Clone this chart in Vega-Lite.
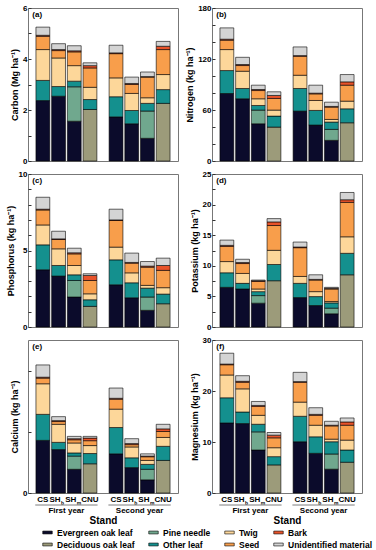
{
"$schema":"https://vega.github.io/schema/vega-lite/v6.json",
"padding":{"left":5,"top":3,"right":2,"bottom":0},
"config":{"font":"Liberation Sans","view":{"stroke":"#777","strokeWidth":1},
"axis":{"labelFontWeight":"bold","labelFontSize":8,"titleFontWeight":"bold","titleFontSize":9,"grid":false,"domain":false,"labelColor":"#000","titleColor":"#000"},
"axisX":{"labelAngle":0},
"axisY":{"tickSize":-3,"tickColor":"#333","labelPadding":4,"titlePadding":3,"labelOverlap":false},
"legend":{"labelFontSize":8.5,"labelFontWeight":"bold","labelColor":"#000"}},
"datasets":{
"bars":[
{"el":"C","yr":"First year","st":"CS","c1":2.37,"c4":0.79,"c5":1.21,"c6":0.52,"c7":0.04,"c8":0.32},
{"el":"C","yr":"First year","st":"SHb","c1":2.54,"c4":0.38,"c5":1.12,"c6":0.29,"c7":0.04,"c8":0.23},
{"el":"C","yr":"First year","st":"SHm","c1":1.56,"c3":1.35,"c4":0.22,"c5":0.61,"c6":0.54,"c7":0.04,"c8":0.2},
{"el":"C","yr":"First year","st":"CNU","c2":2.02,"c4":0.39,"c5":0.48,"c6":0.76,"c7":0.09,"c8":0.11},
{"el":"C","yr":"Second year","st":"CS","c1":1.73,"c4":0.79,"c5":0.74,"c6":0.95,"c7":0.03,"c8":0.3},
{"el":"C","yr":"Second year","st":"SHb","c1":1.46,"c4":0.52,"c5":0.67,"c6":0.35,"c7":0.04,"c8":0.25},
{"el":"C","yr":"Second year","st":"SHm","c1":0.89,"c3":1.07,"c4":0.3,"c5":0.22,"c6":0.81,"c7":0.02,"c8":0.18},
{"el":"C","yr":"Second year","st":"CNU","c2":2.26,"c4":0.54,"c5":0.59,"c6":0.98,"c7":0.13,"c8":0.19},
{"el":"N","yr":"First year","st":"CS","c1":79.4,"c4":27,"c5":24.7,"c6":11,"c7":1.2,"c8":13.3},
{"el":"N","yr":"First year","st":"SHb","c1":73.2,"c4":12.1,"c5":20.3,"c6":6.7,"c7":1.2,"c8":8.5},
{"el":"N","yr":"First year","st":"SHm","c1":43.8,"c3":16.1,"c4":5.4,"c5":7.9,"c6":9.7,"c7":1.2,"c8":5.1},
{"el":"N","yr":"First year","st":"CNU","c2":39.9,"c4":12.9,"c5":7.1,"c6":13.7,"c7":3.5,"c8":4.3},
{"el":"N","yr":"Second year","st":"CS","c1":58.7,"c4":26.6,"c5":15.6,"c6":22.3,"c7":0.8,"c8":10.2},
{"el":"N","yr":"Second year","st":"SHb","c1":42.3,"c4":17.2,"c5":11.7,"c6":7.8,"c7":0.8,"c8":9.4},
{"el":"N","yr":"Second year","st":"SHm","c1":24.3,"c3":12.9,"c4":8.6,"c5":3.1,"c6":14.5,"c7":0.8,"c8":5},
{"el":"N","yr":"Second year","st":"CNU","c2":45,"c4":16.4,"c5":9,"c6":18.8,"c7":3.9,"c8":8.6},
{"el":"P","yr":"First year","st":"CS","c1":3.74,"c4":1.63,"c5":1.3,"c6":0.98,"c7":0.05,"c8":0.78},
{"el":"P","yr":"First year","st":"SHb","c1":3.33,"c4":0.69,"c5":1.09,"c6":0.61,"c7":0.04,"c8":0.5},
{"el":"P","yr":"First year","st":"SHm","c1":1.96,"c3":1.08,"c4":0.37,"c5":0.61,"c6":0.76,"c7":0.07,"c8":0.3},
{"el":"P","yr":"First year","st":"CNU","c2":1.35,"c4":0.43,"c5":0.39,"c6":0.87,"c7":0.33,"c8":0.11},
{"el":"P","yr":"Second year","st":"CS","c1":2.76,"c4":1.63,"c5":0.83,"c6":1.74,"c7":0.04,"c8":0.7},
{"el":"P","yr":"Second year","st":"SHb","c1":1.91,"c4":0.98,"c5":0.65,"c6":0.63,"c7":0.05,"c8":0.61},
{"el":"P","yr":"Second year","st":"SHm","c1":1.09,"c3":0.87,"c4":0.58,"c5":0.18,"c6":1.19,"c7":0.07,"c8":0.3},
{"el":"P","yr":"Second year","st":"CNU","c2":1.52,"c4":0.63,"c5":0.42,"c6":1.13,"c7":0.32,"c8":0.48},
{"el":"K","yr":"First year","st":"CS","c1":6.48,"c4":2.38,"c5":1.83,"c6":2.48,"c7":0.17,"c8":0.86},
{"el":"K","yr":"First year","st":"SHb","c1":6.21,"c4":0.92,"c5":1.62,"c6":1.62,"c7":0.16,"c8":0.54},
{"el":"K","yr":"First year","st":"SHm","c1":3.89,"c3":1.24,"c4":0.65,"c5":0.43,"c6":1.24,"c7":0.11,"c8":0.11},
{"el":"K","yr":"First year","st":"CNU","c2":7.56,"c4":2.65,"c5":2.32,"c6":4.05,"c7":0.59,"c8":0.54},
{"el":"K","yr":"Second year","st":"CS","c1":4.81,"c4":2.32,"c5":1.13,"c6":4.7,"c7":0.11,"c8":0.81},
{"el":"K","yr":"Second year","st":"SHb","c1":3.51,"c4":1.46,"c5":0.81,"c6":1.89,"c7":0.11,"c8":0.75},
{"el":"K","yr":"Second year","st":"SHm","c1":2.16,"c3":0.92,"c4":0.86,"c5":0.22,"c6":2.05,"c7":0.11,"c8":0.16},
{"el":"K","yr":"Second year","st":"CNU","c2":8.53,"c4":3.51,"c5":2.7,"c6":5.62,"c7":0.43,"c8":1.19},
{"el":"Ca","yr":"First year","st":"CS","c1":34.4,"c4":17,"c5":20,"c6":3.7,"c7":0.6,"c8":8},
{"el":"Ca","yr":"First year","st":"SHb","c1":28.4,"c4":4.7,"c5":11.8,"c6":1.8,"c7":0.6,"c8":2.6},
{"el":"Ca","yr":"First year","st":"SHm","c1":15.5,"c3":8.6,"c4":2.1,"c5":6.5,"c6":2.1,"c7":0.7,"c8":1.5},
{"el":"Ca","yr":"First year","st":"CNU","c2":19.1,"c4":6.7,"c5":5.2,"c6":3.2,"c7":1.7,"c8":1.1},
{"el":"Ca","yr":"Second year","st":"CS","c1":25.6,"c4":17.2,"c5":12,"c6":6.5,"c7":0.6,"c8":6.7},
{"el":"Ca","yr":"Second year","st":"SHb","c1":16.6,"c4":6.4,"c5":7.1,"c6":1.5,"c7":0.7,"c8":3.2},
{"el":"Ca","yr":"Second year","st":"SHm","c1":8.6,"c3":6.9,"c4":3.2,"c5":2.6,"c6":2.4,"c7":0.4,"c8":1.5},
{"el":"Ca","yr":"Second year","st":"CNU","c2":21.3,"c4":9.2,"c5":5.8,"c6":3.9,"c7":1.7,"c8":3},
{"el":"Mg","yr":"First year","st":"CS","c1":13.74,"c4":4.93,"c5":4.47,"c6":2.01,"c7":0.13,"c8":2.13},
{"el":"Mg","yr":"First year","st":"SHb","c1":13.61,"c4":2.27,"c5":4.54,"c6":1.29,"c7":0.19,"c8":1.1},
{"el":"Mg","yr":"First year","st":"SHm","c1":8.43,"c3":3.56,"c4":1.49,"c5":1.75,"c6":1.75,"c7":0.19,"c8":0.78},
{"el":"Mg","yr":"First year","st":"CNU","c2":5.51,"c4":1.62,"c5":1.75,"c6":1.94,"c7":0.52,"c8":0.52},
{"el":"Mg","yr":"Second year","st":"CS","c1":10.05,"c4":4.99,"c5":2.78,"c6":3.89,"c7":0.13,"c8":1.82},
{"el":"Mg","yr":"Second year","st":"SHb","c1":7.78,"c4":3.24,"c5":2.27,"c6":1.94,"c7":0.19,"c8":1.3},
{"el":"Mg","yr":"Second year","st":"SHm","c1":4.67,"c3":2.98,"c4":2.4,"c5":0.51,"c6":2.6,"c7":0.13,"c8":0.77},
{"el":"Mg","yr":"Second year","st":"CNU","c2":6.03,"c4":2.4,"c5":1.94,"c6":2.92,"c7":0.64,"c8":0.78}
],
"stands":[
{"yr":"First year","st":"CS","lab":"CS","sub":""},
{"yr":"First year","st":"SHb","lab":"SH","sub":"b"},
{"yr":"First year","st":"SHm","lab":"SH","sub":"m"},
{"yr":"First year","st":"CNU","lab":"CNU","sub":""},
{"yr":"Second year","st":"CS","lab":"CS","sub":""},
{"yr":"Second year","st":"SHb","lab":"SH","sub":"b"},
{"yr":"Second year","st":"SHm","lab":"SH","sub":"m"},
{"yr":"Second year","st":"CNU","lab":"CNU","sub":""}
],
"years":[{"yr":"First year"},{"yr":"Second year"}]
},
"columns":2,
"spacing":{"row":13,"column":34},
"bounds":"flush",
"resolve":{"scale":{"x":"independent","y":"independent","xOffset":"independent","color":"shared"}},
"concat":[
{"width":150,"height":153,"layer":[
{"data":{"name":"bars"},"transform":[{"filter":"datum.el==='C'"},{"fold":["c1","c2","c3","c4","c5","c6","c7","c8"],"as":["comp","value"]},{"filter":"datum.value > 0"}],
"mark":{"type":"bar","stroke":"#000","strokeWidth":0.6},
"encoding":{"x":{"field":"yr","type":"nominal","scale":{"paddingInner":0.15,"paddingOuter":0.1},"axis":null},
"xOffset":{"field":"st","type":"nominal","sort":["CS","SHb","SHm","CNU"],"scale":{"paddingInner":0.12,"paddingOuter":0.04}},
"y":{"field":"value","type":"quantitative","stack":"zero","scale":{"domain":[0,6],"nice":false},"axis":{"title":"Carbon (Mg ha⁻¹)","values":[0,1,2,3,4,5,6],"labelExpr":"datum.value % 2 === 0 ? datum.label : ''"}},
"color":{"field":"comp","type":"nominal","scale":{"domain":["c1","c2","c3","c4","c5","c6","c7","c8"],"range":["#0b0b2b","#9c9b7a","#70a88e","#14908e","#fdd79a","#f89e4b","#e8532a","#d4d4d4"]},
"legend":{"orient":"none","legendX":14,"legendY":519,"direction":"horizontal","columns":4,"title":null,"values":["c1","c3","c5","c7","c2","c4","c6","c8"],"labelExpr":"datum.value==='c1'?'Evergreen oak leaf':datum.value==='c2'?'Deciduous oak leaf':datum.value==='c3'?'Pine needle':datum.value==='c4'?'Other leaf':datum.value==='c5'?'Twig':datum.value==='c6'?'Seed':datum.value==='c7'?'Bark':'Unidentified material'","symbolType":"M-1,-0.3L1,-0.3L1,0.3L-1,0.3Z","symbolSize":90,"symbolStrokeColor":"#000","symbolStrokeWidth":0.6,"columnPadding":12,"rowPadding":2}},
"order":{"field":"comp","type":"nominal","sort":"ascending"}}},
{"data":{"values":[{}]},"mark":{"type":"text","text":"(a)","align":"left","baseline":"top","fontSize":8,"fontWeight":"bold","dx":-3,"dy":3},
"encoding":{"x":{"datum":"First year","bandPosition":0,"axis":null},"y":{"datum":6,"type":"quantitative","axis":{"title":"Carbon (Mg ha⁻¹)","values":[0,1,2,3,4,5,6],"labelExpr":"datum.value % 2 === 0 ? datum.label : ''"}}}}
]},
{"width":150,"height":153,"layer":[
{"data":{"name":"bars"},"transform":[{"filter":"datum.el==='N'"},{"fold":["c1","c2","c3","c4","c5","c6","c7","c8"],"as":["comp","value"]},{"filter":"datum.value > 0"}],
"mark":{"type":"bar","stroke":"#000","strokeWidth":0.6},
"encoding":{"x":{"field":"yr","type":"nominal","scale":{"paddingInner":0.15,"paddingOuter":0.1},"axis":null},
"xOffset":{"field":"st","type":"nominal","sort":["CS","SHb","SHm","CNU"],"scale":{"paddingInner":0.12,"paddingOuter":0.04}},
"y":{"field":"value","type":"quantitative","stack":"zero","scale":{"domain":[0,180],"nice":false},"axis":{"title":"Nitrogen (kg ha⁻¹)","values":[0,20,40,60,80,100,120,140,160,180],"labelExpr":"datum.value % 60 === 0 ? datum.label : ''"}},
"color":{"field":"comp","type":"nominal","scale":{"domain":["c1","c2","c3","c4","c5","c6","c7","c8"],"range":["#0b0b2b","#9c9b7a","#70a88e","#14908e","#fdd79a","#f89e4b","#e8532a","#d4d4d4"]},
"legend":{"orient":"none","legendX":14,"legendY":519,"direction":"horizontal","columns":4,"title":null,"values":["c1","c3","c5","c7","c2","c4","c6","c8"],"labelExpr":"datum.value==='c1'?'Evergreen oak leaf':datum.value==='c2'?'Deciduous oak leaf':datum.value==='c3'?'Pine needle':datum.value==='c4'?'Other leaf':datum.value==='c5'?'Twig':datum.value==='c6'?'Seed':datum.value==='c7'?'Bark':'Unidentified material'","symbolType":"M-1,-0.3L1,-0.3L1,0.3L-1,0.3Z","symbolSize":90,"symbolStrokeColor":"#000","symbolStrokeWidth":0.6,"columnPadding":12,"rowPadding":2}},
"order":{"field":"comp","type":"nominal","sort":"ascending"}}},
{"data":{"values":[{}]},"mark":{"type":"text","text":"(b)","align":"left","baseline":"top","fontSize":8,"fontWeight":"bold","dx":-3,"dy":3},
"encoding":{"x":{"datum":"First year","bandPosition":0,"axis":null},"y":{"datum":180,"type":"quantitative","axis":{"title":"Nitrogen (kg ha⁻¹)","values":[0,20,40,60,80,100,120,140,160,180],"labelExpr":"datum.value % 60 === 0 ? datum.label : ''"}}}}
]},
{"width":150,"height":153,"layer":[
{"data":{"name":"bars"},"transform":[{"filter":"datum.el==='P'"},{"fold":["c1","c2","c3","c4","c5","c6","c7","c8"],"as":["comp","value"]},{"filter":"datum.value > 0"}],
"mark":{"type":"bar","stroke":"#000","strokeWidth":0.6},
"encoding":{"x":{"field":"yr","type":"nominal","scale":{"paddingInner":0.15,"paddingOuter":0.1},"axis":null},
"xOffset":{"field":"st","type":"nominal","sort":["CS","SHb","SHm","CNU"],"scale":{"paddingInner":0.12,"paddingOuter":0.04}},
"y":{"field":"value","type":"quantitative","stack":"zero","scale":{"domain":[0,10],"nice":false},"axis":{"title":"Phosphorus (kg ha⁻¹)","values":[0,1,2,3,4,5,6,7,8,9,10],"labelExpr":"datum.value % 5 === 0 ? datum.label : ''"}},
"color":{"field":"comp","type":"nominal","scale":{"domain":["c1","c2","c3","c4","c5","c6","c7","c8"],"range":["#0b0b2b","#9c9b7a","#70a88e","#14908e","#fdd79a","#f89e4b","#e8532a","#d4d4d4"]},
"legend":{"orient":"none","legendX":14,"legendY":519,"direction":"horizontal","columns":4,"title":null,"values":["c1","c3","c5","c7","c2","c4","c6","c8"],"labelExpr":"datum.value==='c1'?'Evergreen oak leaf':datum.value==='c2'?'Deciduous oak leaf':datum.value==='c3'?'Pine needle':datum.value==='c4'?'Other leaf':datum.value==='c5'?'Twig':datum.value==='c6'?'Seed':datum.value==='c7'?'Bark':'Unidentified material'","symbolType":"M-1,-0.3L1,-0.3L1,0.3L-1,0.3Z","symbolSize":90,"symbolStrokeColor":"#000","symbolStrokeWidth":0.6,"columnPadding":12,"rowPadding":2}},
"order":{"field":"comp","type":"nominal","sort":"ascending"}}},
{"data":{"values":[{}]},"mark":{"type":"text","text":"(c)","align":"left","baseline":"top","fontSize":8,"fontWeight":"bold","dx":-3,"dy":3},
"encoding":{"x":{"datum":"First year","bandPosition":0,"axis":null},"y":{"datum":10,"type":"quantitative","axis":{"title":"Phosphorus (kg ha⁻¹)","values":[0,1,2,3,4,5,6,7,8,9,10],"labelExpr":"datum.value % 5 === 0 ? datum.label : ''"}}}}
]},
{"width":150,"height":153,"layer":[
{"data":{"name":"bars"},"transform":[{"filter":"datum.el==='K'"},{"fold":["c1","c2","c3","c4","c5","c6","c7","c8"],"as":["comp","value"]},{"filter":"datum.value > 0"}],
"mark":{"type":"bar","stroke":"#000","strokeWidth":0.6},
"encoding":{"x":{"field":"yr","type":"nominal","scale":{"paddingInner":0.15,"paddingOuter":0.1},"axis":null},
"xOffset":{"field":"st","type":"nominal","sort":["CS","SHb","SHm","CNU"],"scale":{"paddingInner":0.12,"paddingOuter":0.04}},
"y":{"field":"value","type":"quantitative","stack":"zero","scale":{"domain":[0,25],"nice":false},"axis":{"title":"Potassium (kg ha⁻¹)","values":[0,2.5,5,7.5,10,12.5,15,17.5,20,22.5,25],"labelExpr":"datum.value % 5 === 0 ? datum.label : ''"}},
"color":{"field":"comp","type":"nominal","scale":{"domain":["c1","c2","c3","c4","c5","c6","c7","c8"],"range":["#0b0b2b","#9c9b7a","#70a88e","#14908e","#fdd79a","#f89e4b","#e8532a","#d4d4d4"]},
"legend":{"orient":"none","legendX":14,"legendY":519,"direction":"horizontal","columns":4,"title":null,"values":["c1","c3","c5","c7","c2","c4","c6","c8"],"labelExpr":"datum.value==='c1'?'Evergreen oak leaf':datum.value==='c2'?'Deciduous oak leaf':datum.value==='c3'?'Pine needle':datum.value==='c4'?'Other leaf':datum.value==='c5'?'Twig':datum.value==='c6'?'Seed':datum.value==='c7'?'Bark':'Unidentified material'","symbolType":"M-1,-0.3L1,-0.3L1,0.3L-1,0.3Z","symbolSize":90,"symbolStrokeColor":"#000","symbolStrokeWidth":0.6,"columnPadding":12,"rowPadding":2}},
"order":{"field":"comp","type":"nominal","sort":"ascending"}}},
{"data":{"values":[{}]},"mark":{"type":"text","text":"(d)","align":"left","baseline":"top","fontSize":8,"fontWeight":"bold","dx":-3,"dy":3},
"encoding":{"x":{"datum":"First year","bandPosition":0,"axis":null},"y":{"datum":25,"type":"quantitative","axis":{"title":"Potassium (kg ha⁻¹)","values":[0,2.5,5,7.5,10,12.5,15,17.5,20,22.5,25],"labelExpr":"datum.value % 5 === 0 ? datum.label : ''"}}}}
]},
{"width":150,"height":153,"layer":[
{"data":{"name":"bars"},"transform":[{"filter":"datum.el==='Ca'"},{"fold":["c1","c2","c3","c4","c5","c6","c7","c8"],"as":["comp","value"]},{"filter":"datum.value > 0"}],
"mark":{"type":"bar","stroke":"#000","strokeWidth":0.6},
"encoding":{"x":{"field":"yr","type":"nominal","scale":{"paddingInner":0.15,"paddingOuter":0.1},"axis":{"title":"Stand","ticks":false,"labelAngle":0,"labelPadding":13,"titleFontSize":10,"titlePadding":1}},
"xOffset":{"field":"st","type":"nominal","sort":["CS","SHb","SHm","CNU"],"scale":{"paddingInner":0.12,"paddingOuter":0.04}},
"y":{"field":"value","type":"quantitative","stack":"zero","scale":{"domain":[0,100],"nice":false},"axis":{"title":"Calcium (kg ha⁻¹)","values":[0,10,20,30,40,50,60,70,80,90,100],"labelExpr":"datum.value % 50 === 0 ? datum.label : ''"}},
"color":{"field":"comp","type":"nominal","scale":{"domain":["c1","c2","c3","c4","c5","c6","c7","c8"],"range":["#0b0b2b","#9c9b7a","#70a88e","#14908e","#fdd79a","#f89e4b","#e8532a","#d4d4d4"]},
"legend":{"orient":"none","legendX":14,"legendY":519,"direction":"horizontal","columns":4,"title":null,"values":["c1","c3","c5","c7","c2","c4","c6","c8"],"labelExpr":"datum.value==='c1'?'Evergreen oak leaf':datum.value==='c2'?'Deciduous oak leaf':datum.value==='c3'?'Pine needle':datum.value==='c4'?'Other leaf':datum.value==='c5'?'Twig':datum.value==='c6'?'Seed':datum.value==='c7'?'Bark':'Unidentified material'","symbolType":"M-1,-0.3L1,-0.3L1,0.3L-1,0.3Z","symbolSize":90,"symbolStrokeColor":"#000","symbolStrokeWidth":0.6,"columnPadding":12,"rowPadding":2}},
"order":{"field":"comp","type":"nominal","sort":"ascending"}}},
{"data":{"values":[{}]},"mark":{"type":"text","text":"(e)","align":"left","baseline":"top","fontSize":8,"fontWeight":"bold","dx":-3,"dy":3},
"encoding":{"x":{"datum":"First year","bandPosition":0,"axis":{"title":"Stand","ticks":false,"labelAngle":0,"labelPadding":13,"titleFontSize":10,"titlePadding":1}},"y":{"datum":100,"type":"quantitative","axis":{"title":"Calcium (kg ha⁻¹)","values":[0,10,20,30,40,50,60,70,80,90,100],"labelExpr":"datum.value % 50 === 0 ? datum.label : ''"}}}},
{"data":{"name":"stands"},"transform":[{"filter":"datum.sub === ''"}],"mark":{"type":"text","baseline":"top","fontSize":8,"fontWeight":"bold","dy":3},
"encoding":{"x":{"field":"yr","type":"nominal","axis":{"title":"Stand","ticks":false,"labelAngle":0,"labelPadding":13,"titleFontSize":10,"titlePadding":1}},"xOffset":{"field":"st","type":"nominal","sort":["CS","SHb","SHm","CNU"]},"y":{"datum":0,"type":"quantitative"},"text":{"field":"lab"}}},
{"data":{"name":"stands"},"transform":[{"filter":"datum.sub !== ''"}],"mark":{"type":"text","baseline":"top","align":"right","fontSize":8,"fontWeight":"bold","dy":3,"dx":2},
"encoding":{"x":{"field":"yr","type":"nominal","axis":{"title":"Stand","ticks":false,"labelAngle":0,"labelPadding":13,"titleFontSize":10,"titlePadding":1}},"xOffset":{"field":"st","type":"nominal","sort":["CS","SHb","SHm","CNU"]},"y":{"datum":0,"type":"quantitative"},"text":{"field":"lab"}}},
{"data":{"name":"stands"},"transform":[{"filter":"datum.sub !== ''"}],"mark":{"type":"text","baseline":"top","align":"left","fontSize":5,"fontWeight":"bold","dy":8,"dx":2.5},
"encoding":{"x":{"field":"yr","type":"nominal","axis":{"title":"Stand","ticks":false,"labelAngle":0,"labelPadding":13,"titleFontSize":10,"titlePadding":1}},"xOffset":{"field":"st","type":"nominal","sort":["CS","SHb","SHm","CNU"]},"y":{"datum":0,"type":"quantitative"},"text":{"field":"sub"}}},
{"data":{"name":"years"},"mark":{"type":"bar","fill":null,"stroke":"#999","strokeWidth":0.8,"yOffset":12,"y2Offset":12},
"encoding":{"x":{"field":"yr","type":"nominal","axis":{"title":"Stand","ticks":false,"labelAngle":0,"labelPadding":13,"titleFontSize":10,"titlePadding":1}},"y":{"datum":0,"type":"quantitative"},"y2":{"datum":0}}}
]},
{"width":150,"height":153,"layer":[
{"data":{"name":"bars"},"transform":[{"filter":"datum.el==='Mg'"},{"fold":["c1","c2","c3","c4","c5","c6","c7","c8"],"as":["comp","value"]},{"filter":"datum.value > 0"}],
"mark":{"type":"bar","stroke":"#000","strokeWidth":0.6},
"encoding":{"x":{"field":"yr","type":"nominal","scale":{"paddingInner":0.15,"paddingOuter":0.1},"axis":{"title":"Stand","ticks":false,"labelAngle":0,"labelPadding":13,"titleFontSize":10,"titlePadding":1}},
"xOffset":{"field":"st","type":"nominal","sort":["CS","SHb","SHm","CNU"],"scale":{"paddingInner":0.12,"paddingOuter":0.04}},
"y":{"field":"value","type":"quantitative","stack":"zero","scale":{"domain":[0,30],"nice":false},"axis":{"title":"Magnesium (kg ha⁻¹)","values":[0,5,10,15,20,25,30],"labelExpr":"datum.value % 10 === 0 ? datum.label : ''"}},
"color":{"field":"comp","type":"nominal","scale":{"domain":["c1","c2","c3","c4","c5","c6","c7","c8"],"range":["#0b0b2b","#9c9b7a","#70a88e","#14908e","#fdd79a","#f89e4b","#e8532a","#d4d4d4"]},
"legend":{"orient":"none","legendX":14,"legendY":519,"direction":"horizontal","columns":4,"title":null,"values":["c1","c3","c5","c7","c2","c4","c6","c8"],"labelExpr":"datum.value==='c1'?'Evergreen oak leaf':datum.value==='c2'?'Deciduous oak leaf':datum.value==='c3'?'Pine needle':datum.value==='c4'?'Other leaf':datum.value==='c5'?'Twig':datum.value==='c6'?'Seed':datum.value==='c7'?'Bark':'Unidentified material'","symbolType":"M-1,-0.3L1,-0.3L1,0.3L-1,0.3Z","symbolSize":90,"symbolStrokeColor":"#000","symbolStrokeWidth":0.6,"columnPadding":12,"rowPadding":2}},
"order":{"field":"comp","type":"nominal","sort":"ascending"}}},
{"data":{"values":[{}]},"mark":{"type":"text","text":"(f)","align":"left","baseline":"top","fontSize":8,"fontWeight":"bold","dx":-3,"dy":3},
"encoding":{"x":{"datum":"First year","bandPosition":0,"axis":{"title":"Stand","ticks":false,"labelAngle":0,"labelPadding":13,"titleFontSize":10,"titlePadding":1}},"y":{"datum":30,"type":"quantitative","axis":{"title":"Magnesium (kg ha⁻¹)","values":[0,5,10,15,20,25,30],"labelExpr":"datum.value % 10 === 0 ? datum.label : ''"}}}},
{"data":{"name":"stands"},"transform":[{"filter":"datum.sub === ''"}],"mark":{"type":"text","baseline":"top","fontSize":8,"fontWeight":"bold","dy":3},
"encoding":{"x":{"field":"yr","type":"nominal","axis":{"title":"Stand","ticks":false,"labelAngle":0,"labelPadding":13,"titleFontSize":10,"titlePadding":1}},"xOffset":{"field":"st","type":"nominal","sort":["CS","SHb","SHm","CNU"]},"y":{"datum":0,"type":"quantitative"},"text":{"field":"lab"}}},
{"data":{"name":"stands"},"transform":[{"filter":"datum.sub !== ''"}],"mark":{"type":"text","baseline":"top","align":"right","fontSize":8,"fontWeight":"bold","dy":3,"dx":2},
"encoding":{"x":{"field":"yr","type":"nominal","axis":{"title":"Stand","ticks":false,"labelAngle":0,"labelPadding":13,"titleFontSize":10,"titlePadding":1}},"xOffset":{"field":"st","type":"nominal","sort":["CS","SHb","SHm","CNU"]},"y":{"datum":0,"type":"quantitative"},"text":{"field":"lab"}}},
{"data":{"name":"stands"},"transform":[{"filter":"datum.sub !== ''"}],"mark":{"type":"text","baseline":"top","align":"left","fontSize":5,"fontWeight":"bold","dy":8,"dx":2.5},
"encoding":{"x":{"field":"yr","type":"nominal","axis":{"title":"Stand","ticks":false,"labelAngle":0,"labelPadding":13,"titleFontSize":10,"titlePadding":1}},"xOffset":{"field":"st","type":"nominal","sort":["CS","SHb","SHm","CNU"]},"y":{"datum":0,"type":"quantitative"},"text":{"field":"sub"}}},
{"data":{"name":"years"},"mark":{"type":"bar","fill":null,"stroke":"#999","strokeWidth":0.8,"yOffset":12,"y2Offset":12},
"encoding":{"x":{"field":"yr","type":"nominal","axis":{"title":"Stand","ticks":false,"labelAngle":0,"labelPadding":13,"titleFontSize":10,"titlePadding":1}},"y":{"datum":0,"type":"quantitative"},"y2":{"datum":0}}}
]}
]
}
